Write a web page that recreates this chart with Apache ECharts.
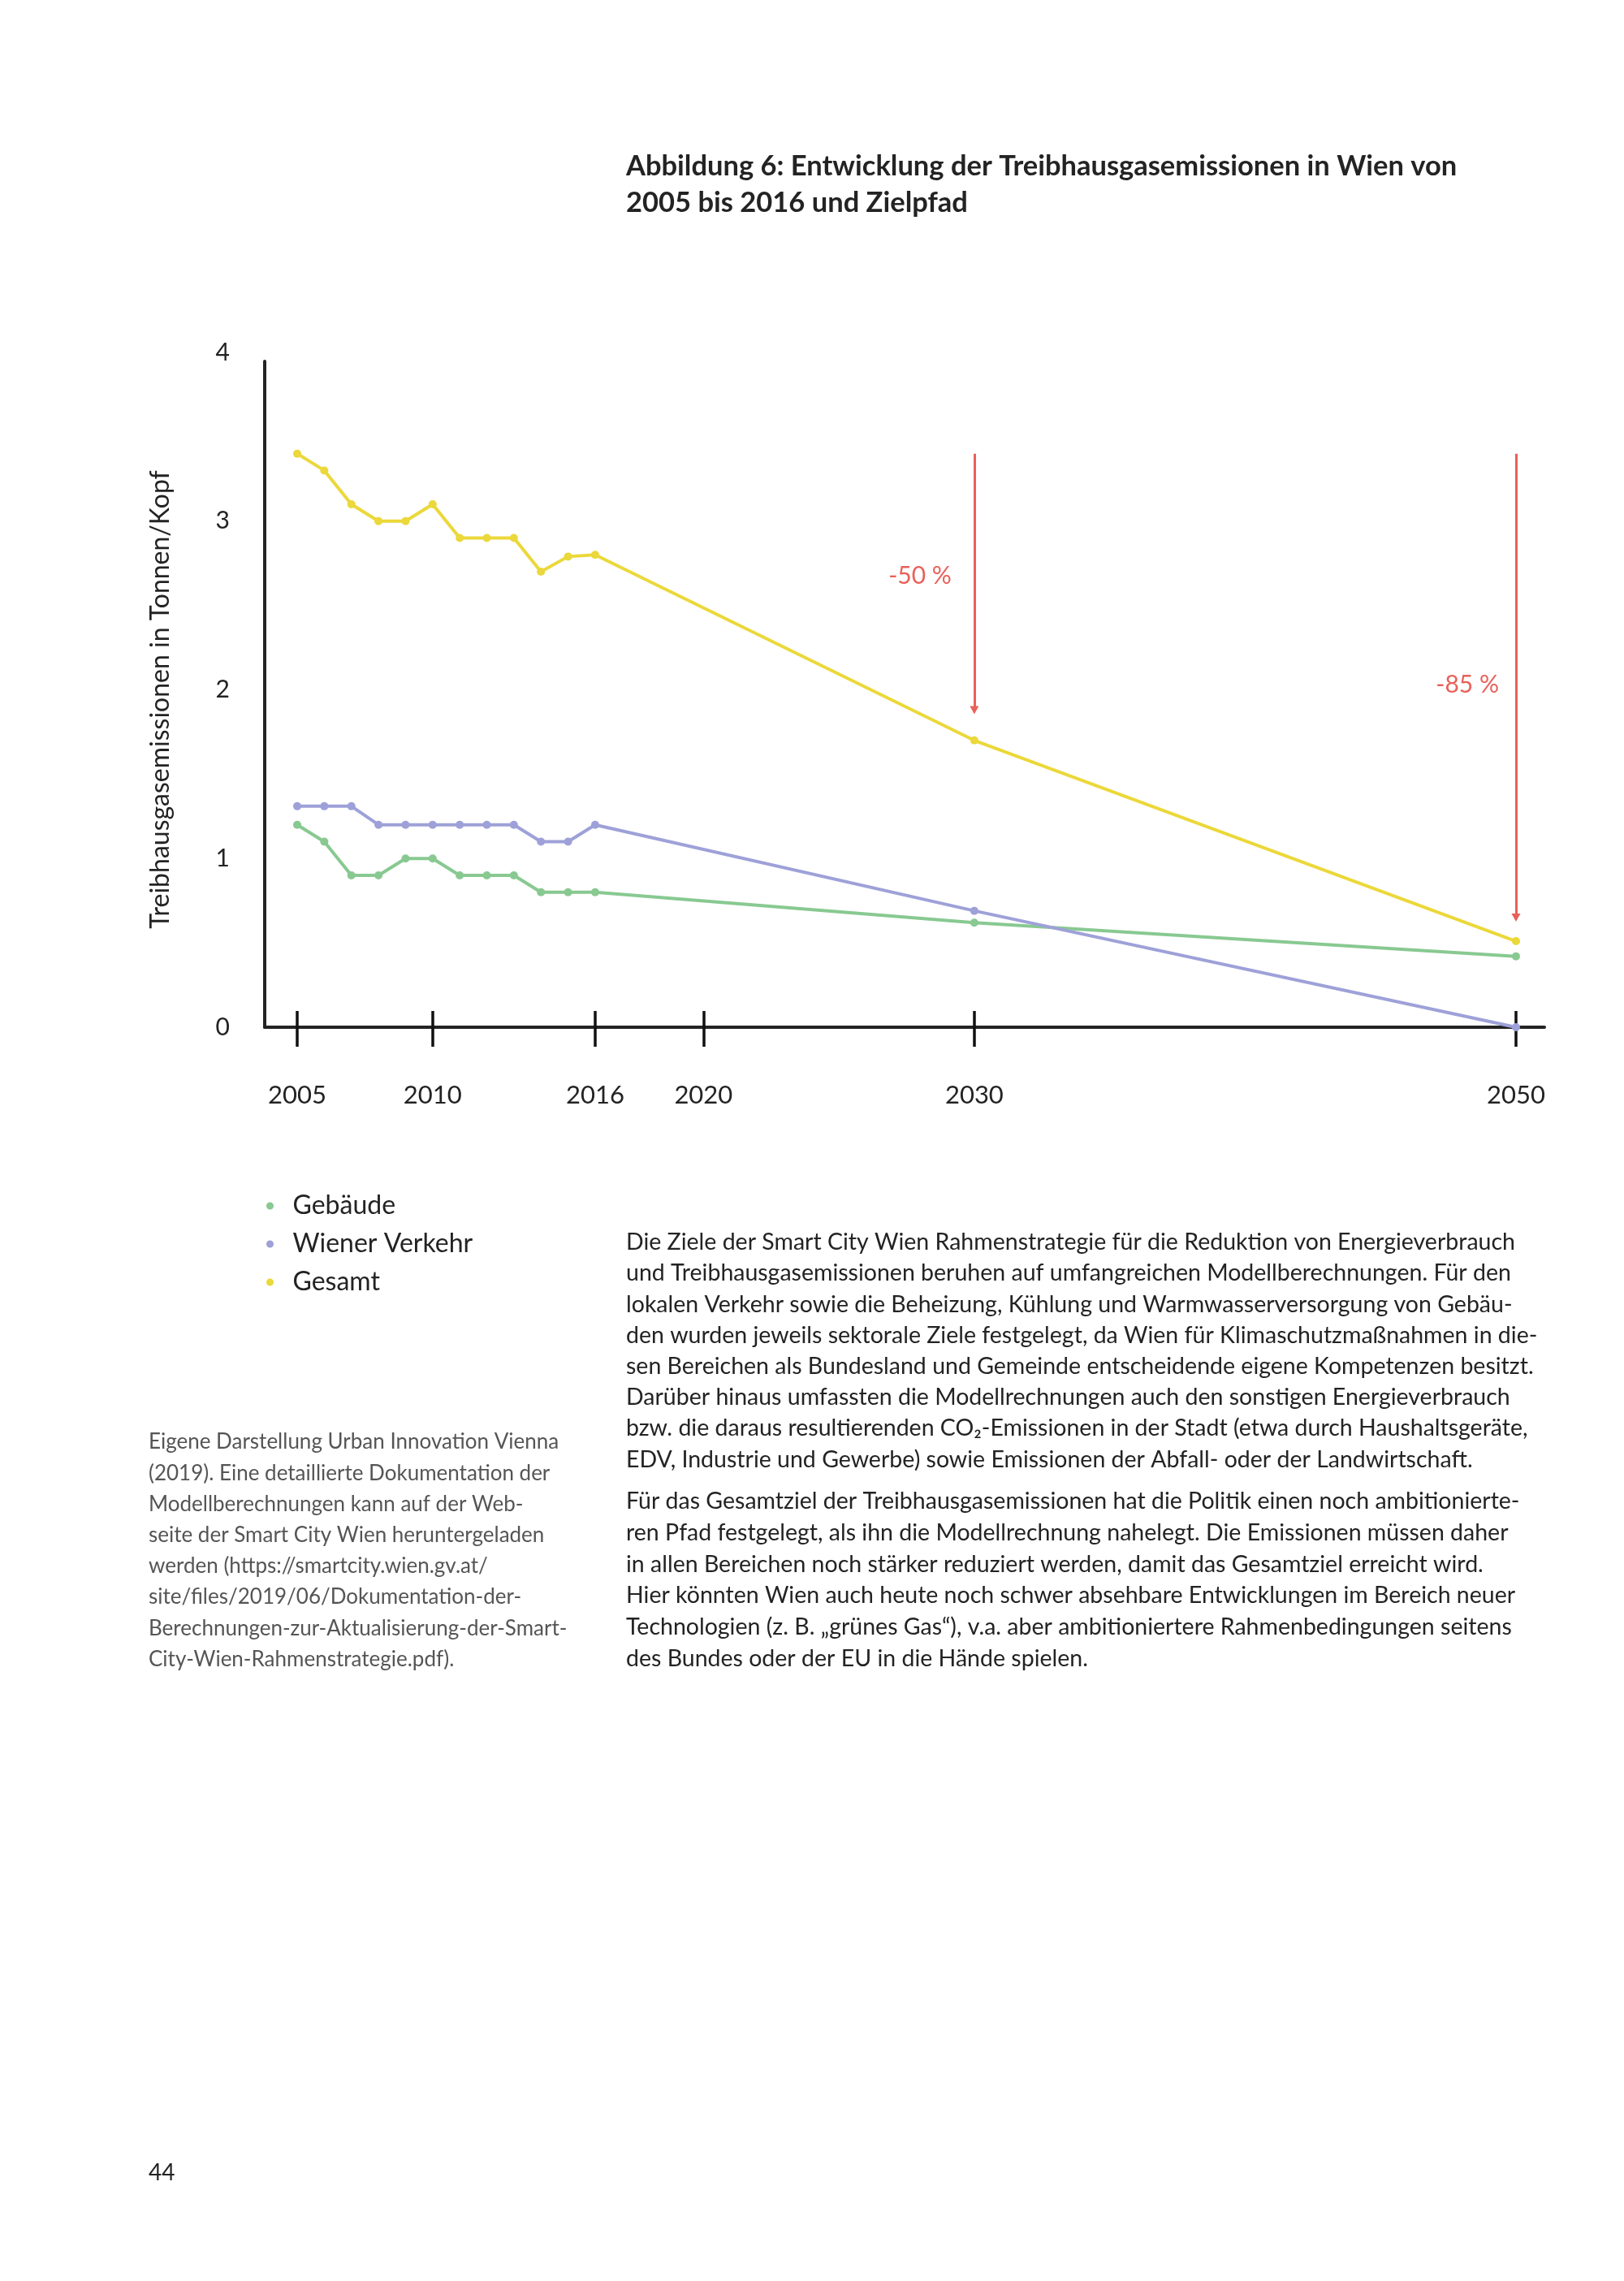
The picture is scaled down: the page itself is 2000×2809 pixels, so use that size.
<!DOCTYPE html>
<html><head><meta charset="utf-8">
<script src="https://cdn.jsdelivr.net/npm/echarts@6/dist/echarts.min.js"></script>
<style>html,body{margin:0;padding:0;background:#fff}#c{width:2000px;height:2809px}</style>
</head><body><div id="c"></div>
<script>
// ---- data ----
const years = [2005,2006,2007,2008,2009,2010,2011,2012,2013,2014,2015,2016,2030,2050];
const gebaeude = [1.2,1.1,0.9,0.9,1.0,1.0,0.9,0.9,0.9,0.8,0.8,0.8,0.62,0.42];
const verkehr  = [1.31,1.31,1.31,1.2,1.2,1.2,1.2,1.2,1.2,1.1,1.1,1.2,0.69,0];
const gesamt   = [3.4,3.3,3.1,3.0,3.0,3.1,2.9,2.9,2.9,2.7,2.79,2.8,1.7,0.51];
const seriesNames = ['Gebäude','Wiener Verkehr','Gesamt'];
const xTickYears = [2005,2010,2016,2020,2030,2050];
const yTicks = [0,1,2,3,4];
const targetYears = [2030,2050];
const targetLabels = ['-50 %','-85 %'];
const arrowFrom = [3.4,3.4];
const arrowTo = [1.88,0.65];
const labelLevels = [2.675,2.03];

const titleText = 'Abbildung 6: Entwicklung der Treibhausgasemissionen in Wien von\n2005 bis 2016 und Zielpfad';
const yName = 'Treibhausgasemissionen in Tonnen/Kopf';
const body1 = [
'Die Ziele der Smart City Wien Rahmenstrategie für die Reduktion von Energieverbrauch',
'und Treibhausgasemissionen beruhen auf umfangreichen Modellberechnungen. Für den',
'lokalen Verkehr sowie die Beheizung, Kühlung und Warmwasserversorgung von Gebäu-',
'den wurden jeweils sektorale Ziele festgelegt, da Wien für Klimaschutzmaßnahmen in die-',
'sen Bereichen als Bundesland und Gemeinde entscheidende eigene Kompetenzen besitzt.',
'Darüber hinaus umfassten die Modellrechnungen auch den sonstigen Energieverbrauch',
'bzw. die daraus resultierenden CO₂-Emissionen in der Stadt (etwa durch Haushaltsgeräte,',
'EDV, Industrie und Gewerbe) sowie Emissionen der Abfall- oder der Landwirtschaft.'
];
const body2 = [
'Für das Gesamtziel der Treibhausgasemissionen hat die Politik einen noch ambitionierte-',
'ren Pfad festgelegt, als ihn die Modellrechnung nahelegt. Die Emissionen müssen daher',
'in allen Bereichen noch stärker reduziert werden, damit das Gesamtziel erreicht wird.',
'Hier könnten Wien auch heute noch schwer absehbare Entwicklungen im Bereich neuer',
'Technologien (z. B. „grünes Gas“), v.a. aber ambitioniertere Rahmenbedingungen seitens',
'des Bundes oder der EU in die Hände spielen.'
];
const sourceLines = [
'Eigene Darstellung Urban Innovation Vienna',
'(2019). Eine detaillierte Dokumentation der',
'Modellberechnungen kann auf der Web-',
'seite der Smart City Wien heruntergeladen',
'werden (https://smartcity.wien.gv.at/',
'site/files/2019/06/Dokumentation-der-',
'Berechnungen-zur-Aktualisierung-der-Smart-',
'City-Wien-Rahmenstrategie.pdf).'
];
const pageNumber = '44';

// ---- styles ----
const FONT = 'Lato, "Noto Sans", sans-serif';
const colors = ['#88c991','#9ea1d8','#ebd83a'];
const RED = '#e8615a';
const INK = '#232323';

const pair = arr => years.map((y,i)=>[y, arr[i]]);

const graphics = [];
body1.forEach((t,i)=>graphics.push({type:'text', x:771, y:1530+i*38.2, style:{text:t, fill:INK, font:'28.5px '+FONT, verticalAlign:'middle'}}));
body2.forEach((t,i)=>graphics.push({type:'text', x:771, y:1849+i*38.7, style:{text:t, fill:INK, font:'28.5px '+FONT, verticalAlign:'middle'}}));
sourceLines.forEach((t,i)=>graphics.push({type:'text', x:183, y:1776+i*38.2, style:{text:t, fill:'#555', font:'26px '+FONT, verticalAlign:'middle'}}));
graphics.push({type:'text', x:183, y:2676, style:{text:pageNumber, fill:INK, font:'28px '+FONT, verticalAlign:'middle'}});

const lineSeries = (name, data, color, extra) => Object.assign({
  name, type:'line', data: pair(data), xAxisIndex:0, yAxisIndex:0,
  symbol:'circle', symbolSize:10, showSymbol:true,
  lineStyle:{color, width:4}, itemStyle:{color},
  emphasis:{disabled:true}, silent:true, animation:false
}, extra||{});

const option = {
  backgroundColor:'#fff',
  animation:false,
  textStyle:{fontFamily:FONT},
  title:{text:titleText, left:771, top:182, padding:0, textStyle:{fontSize:34.5, fontWeight:'bold', color:INK, lineHeight:45, fontFamily:FONT}},
  legend:{
    orient:'vertical', left:323, top:1464, icon:'circle', itemWidth:46, itemHeight:9, itemGap:15,
    data:seriesNames, selectedMode:false,
    textStyle:{fontSize:32, color:INK, fontFamily:FONT}
  },
  grid:[
    {left:326, right:98, top:434, bottom:1544},
    {left:326, right:98, top:445, bottom:1544}
  ],
  xAxis:[
    {type:'value', gridIndex:0, min:2003.8, max:2051.05, position:'bottom',
     axisLine:{show:true, lineStyle:{color:INK, width:4}},
     axisTick:{show:true, inside:true, length:20, customValues:xTickYears, lineStyle:{color:'#111', width:3.5}},
     axisLabel:{show:true, customValues:xTickYears, margin:68, fontSize:31, color:INK, fontFamily:FONT, formatter:v=>String(v)},
     splitLine:{show:false}},
    {type:'value', gridIndex:0, min:2003.8, max:2051.05, position:'bottom',
     axisLine:{show:false},
     axisTick:{show:true, inside:false, length:24, customValues:xTickYears, lineStyle:{color:'#111', width:3.5}},
     axisLabel:{show:false}, splitLine:{show:false}},
    {type:'value', gridIndex:1, min:0, max:1, show:false}
  ],
  yAxis:[
    {type:'value', gridIndex:0, min:0, max:4, interval:1,
     name:yName, nameLocation:'middle', nameGap:112,
     nameTextStyle:{fontSize:32, color:INK, fontFamily:FONT, padding:[0,24,0,0]},
     axisLine:{show:false}, axisTick:{show:false}, splitLine:{show:false},
     axisLabel:{margin:43, fontSize:30, color:INK, fontFamily:FONT, customValues:yTicks}},
    {type:'value', gridIndex:1, min:0, max:1,
     axisLine:{show:true, lineStyle:{color:INK, width:4}}, axisTick:{show:false}, axisLabel:{show:false}, splitLine:{show:false}}
  ],
  series:[
    lineSeries(seriesNames[0], gebaeude, colors[0]),
    lineSeries(seriesNames[1], verkehr, colors[1]),
    lineSeries(seriesNames[2], gesamt, colors[2], {
      markLine:{
        silent:true, animation:false, symbol:['none','triangle'], symbolSize:[11,10],
        lineStyle:{color:RED, width:3, type:'solid'}, label:{show:false}, emphasis:{disabled:true},
        data: targetYears.map((yr,i)=>[{coord:[yr, arrowFrom[i]]},{coord:[yr, arrowTo[i]]}])
      },
      markPoint:{
        silent:true, animation:false, symbol:'circle', symbolSize:0,
        itemStyle:{color:'rgba(0,0,0,0)'},
        label:{show:true, position:'left', color:RED, fontSize:30, fontFamily:FONT, formatter:p=>p.name},
        data: targetYears.map((yr,i)=>({name:targetLabels[i], coord:[yr, labelLevels[i]], label:{distance: i===0?28:21}}))
      }
    })
  ],
  graphic: graphics
};
const chart = echarts.init(document.getElementById('c'), null, {renderer:'canvas', width:2000, height:2809});
chart.setOption(option);
</script>
</body></html>
